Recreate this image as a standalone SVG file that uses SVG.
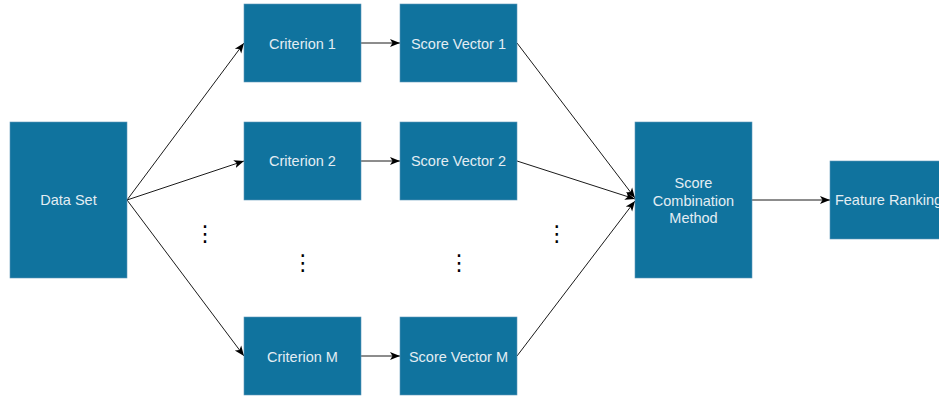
<svg xmlns="http://www.w3.org/2000/svg" width="939" height="396" viewBox="0 0 939 396">
  <style>
    .box { fill: #10739e; stroke: #5f97b8; stroke-width: 0.6; }
    .lbl { font-family: "Liberation Sans", Arial, sans-serif; font-size: 14.5px; fill: #e3edf3; text-anchor: middle; }
    .edge { fill: none; stroke: #1a1a1a; stroke-width: 1; marker-end: url(#arrow); }
    .dots { font-family: "DejaVu Sans", sans-serif; font-size: 22px; fill: #000; text-anchor: middle; }
  </style>
  <defs>
    <marker id="arrow" viewBox="0 0 10 10" refX="10" refY="5" markerWidth="10" markerHeight="10" markerUnits="userSpaceOnUse" orient="auto">
      <path d="M0,1 L10,5 L0,9 L2.5,5 Z" fill="#000"/>
    </marker>
  </defs>
  <rect width="939" height="396" fill="#fff"/>

  <g id="connectors">
    <line class="edge" x1="127" y1="200" x2="244" y2="43"/>
    <line class="edge" x1="127" y1="200" x2="244" y2="161"/>
    <line class="edge" x1="127" y1="200" x2="244" y2="356"/>
    <line class="edge" x1="361" y1="43" x2="400" y2="43"/>
    <line class="edge" x1="361" y1="161" x2="400" y2="161"/>
    <line class="edge" x1="361" y1="356" x2="400" y2="356"/>
    <line class="edge" x1="517" y1="43" x2="635" y2="198"/>
    <line class="edge" x1="517" y1="161" x2="635" y2="199"/>
    <line class="edge" x1="517" y1="356" x2="635" y2="201"/>
    <line class="edge" x1="752" y1="200" x2="830" y2="200"/>
  </g>

  <g id="data-set">
    <rect class="box" x="10" y="122" width="117" height="156"/>
    <text class="lbl" x="68.5" y="205">Data Set</text>
  </g>
  <g id="criterion-1">
    <rect class="box" x="244" y="4" width="117" height="78"/>
    <text class="lbl" x="302.5" y="48.5">Criterion 1</text>
  </g>
  <g id="criterion-2">
    <rect class="box" x="244" y="122" width="117" height="78"/>
    <text class="lbl" x="302.5" y="166">Criterion 2</text>
  </g>
  <g id="criterion-m">
    <rect class="box" x="244" y="317" width="117" height="78"/>
    <text class="lbl" x="302.5" y="361.5">Criterion M</text>
  </g>
  <g id="score-vector-1">
    <rect class="box" x="400" y="4" width="117" height="78"/>
    <text class="lbl" x="458.5" y="48.5">Score Vector 1</text>
  </g>
  <g id="score-vector-2">
    <rect class="box" x="400" y="122" width="117" height="78"/>
    <text class="lbl" x="458.5" y="166">Score Vector 2</text>
  </g>
  <g id="score-vector-m">
    <rect class="box" x="400" y="317" width="117" height="78"/>
    <text class="lbl" x="458.5" y="361.5">Score Vector M</text>
  </g>
  <g id="score-combination">
    <rect class="box" x="635" y="122" width="117" height="156"/>
    <text class="lbl" x="693.5" y="188">Score</text>
    <text class="lbl" x="693.5" y="205.5">Combination</text>
    <text class="lbl" x="693.5" y="223">Method</text>
  </g>
  <g id="feature-ranking">
    <rect class="box" x="830" y="161" width="117" height="78"/>
    <text class="lbl" x="888.5" y="205">Feature Ranking</text>
  </g>

  <g id="ellipses">
    <text class="dots" x="205" y="241">⋮</text>
    <text class="dots" x="302.7" y="270">⋮</text>
    <text class="dots" x="459" y="270">⋮</text>
    <text class="dots" x="556.7" y="241">⋮</text>
  </g>
</svg>
